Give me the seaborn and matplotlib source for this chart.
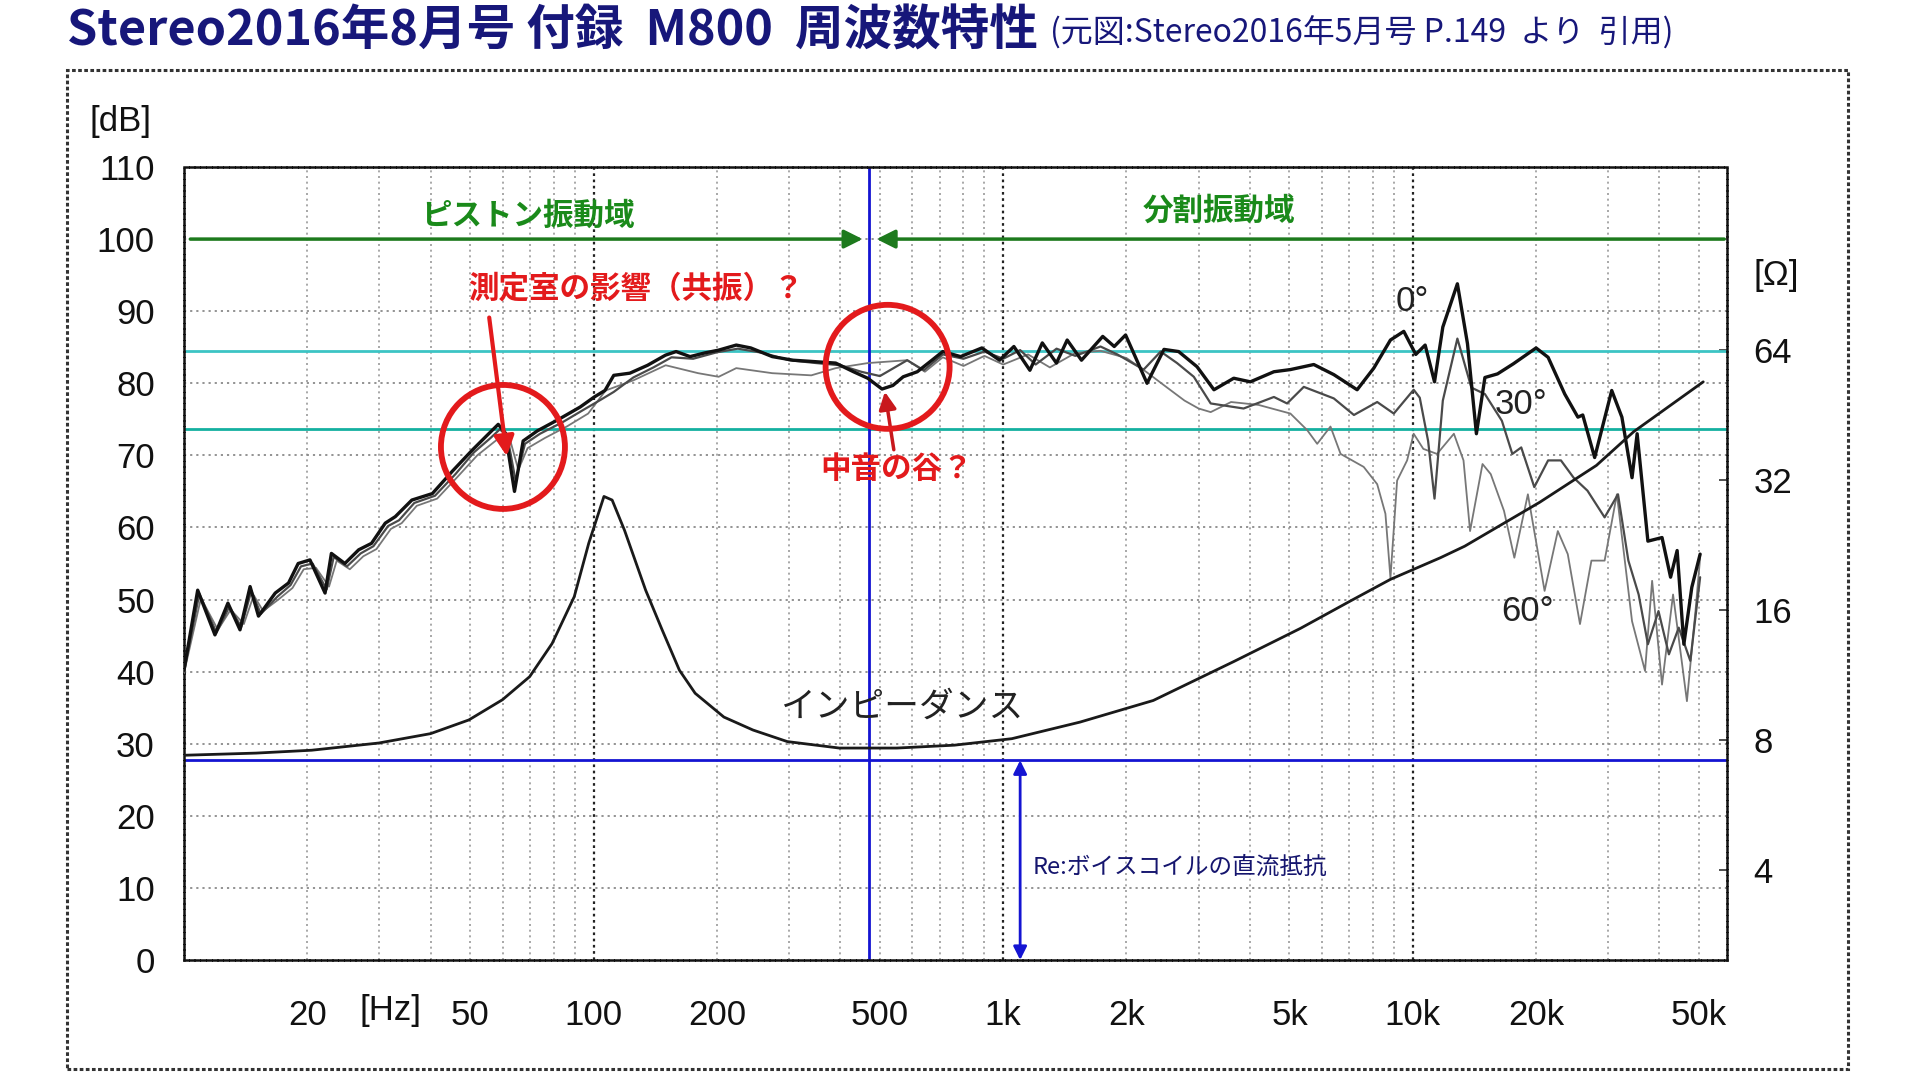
import matplotlib
matplotlib.use("Agg")
import matplotlib.pyplot as plt
from matplotlib.patches import Ellipse, Rectangle
from matplotlib.ticker import FixedLocator, NullLocator
import numpy as np
import pandas as pd
import seaborn as sns

# ---- values (frequency in Hz, level in dB) ----
freq_0deg = [10, 10.8, 11.9, 12.8, 13.7, 14.5, 15.2, 16.7, 18.0, 19.0, 20.3, 22.1, 22.9, 24.7,
             26.7, 28.7, 31.0, 32.8, 36.0, 40.4, 45.2, 50.5, 55.0, 58.5, 60.9, 64.1, 67.3, 72.9,
             82.2, 92.7, 100.4, 106.6, 112, 122.6, 135.5, 149.8, 159, 172, 186.5, 202, 223, 242,
             273, 307, 347, 390, 431, 467, 506, 538, 570, 617, 670, 712, 787, 887, 980, 1062,
             1162, 1246, 1349, 1433, 1553, 1750, 1867, 1990, 2245, 2469, 2681, 2973, 3270, 3655,
             4013, 4581, 5026, 5732, 6415, 7314, 8032, 8820, 9507, 10170, 10720, 11300, 11840,
             12850, 13600, 14300, 15000, 16100, 17600, 20000, 21400, 23500, 25300, 26000, 27800,
             30600, 32400, 34300, 35300, 37500, 40600, 42600, 44200, 45900, 48000, 50300]
spl_0deg = [40.2, 51.3, 45.1, 49.5, 45.8, 51.8, 47.7, 50.9, 52.3, 55.0, 55.5, 50.9, 56.4, 55.0,
            56.9, 57.8, 60.6, 61.5, 63.8, 64.7, 67.8, 70.7, 72.8, 74.3, 73.1, 65.0, 72.0, 73.4,
            75.0, 76.7, 78.1, 79.0, 81.1, 81.4, 82.5, 83.9, 84.4, 83.7, 84.2, 84.6, 85.3, 84.9,
            83.7, 83.2, 83.0, 82.8, 81.6, 80.7, 79.2, 79.7, 80.9, 81.6, 83.2, 84.4, 83.7, 84.9,
            83.2, 85.1, 81.8, 85.6, 82.8, 86.0, 83.2, 86.5, 85.1, 86.7, 80.0, 84.7, 84.4, 82.3,
            79.1, 80.7, 80.2, 81.6, 81.9, 82.6, 81.2, 79.1, 82.1, 86.0, 87.2, 84.0, 85.3, 80.2,
            87.8, 93.8, 85.5, 73.0, 80.8, 81.3, 82.7, 84.9, 83.6, 78.5, 75.3, 75.6, 69.7, 79.0,
            75.3, 66.9, 73.0, 58.1, 58.6, 53.1, 56.8, 43.8, 51.7, 56.3]

freq_30deg = [10, 10.9, 12.0, 12.9, 13.8, 14.6, 15.4, 16.9, 18.2, 19.3, 20.6, 22.3, 23.2, 25.0,
              27.0, 29.0, 31.5, 33.5, 36.5, 41.0, 46.0, 51.0, 56.0, 59.0, 61.5, 64.5, 68.0, 74.0,
              84.0, 95.0, 104, 112, 125, 140, 155, 175, 200, 225, 260, 300, 350, 400, 450, 500,
              583, 640, 712, 800, 900, 1000, 1100, 1200, 1350, 1500, 1728, 1900, 2203, 2424,
              2658, 2920, 3211, 3863, 4581, 4933, 5419, 6415, 7183, 8187, 8988, 10050, 10400,
              10900, 11300, 11840, 12850, 13900, 15000, 16500, 17500, 18400, 19800, 21400,
              23000, 24700, 26700, 29400, 31700, 33600, 35600, 37500, 39800, 42200, 44600,
              47600, 50300]
spl_30deg = [40.0, 50.8, 45.4, 49.0, 46.2, 51.2, 48.0, 50.4, 52.0, 54.6, 55.0, 51.4, 55.9, 54.6,
             56.4, 57.4, 60.2, 61.0, 63.4, 64.4, 67.4, 70.4, 72.4, 73.6, 72.8, 66.5, 71.6, 73.0,
             74.6, 76.4, 77.7, 78.8, 80.8, 82.2, 83.6, 83.4, 84.3, 84.8, 84.2, 83.2, 82.8, 82.5,
             81.6, 81.0, 83.2, 81.8, 84.0, 83.4, 84.4, 83.4, 84.6, 82.6, 84.8, 83.8, 85.1, 84.0,
             81.9, 84.4, 82.8, 80.9, 77.2, 76.5, 78.1, 77.2, 79.5, 77.9, 75.6, 77.4, 75.8, 79.1,
             78.0, 72.0, 64.0, 77.6, 86.2, 79.4, 78.5, 74.8, 70.2, 71.1, 65.6, 69.3, 69.3, 66.9,
             65.1, 61.4, 64.6, 55.4, 50.7, 43.8, 48.4, 42.4, 46.1, 41.5, 53.1]

freq_60deg = [10, 11.0, 12.1, 13.0, 14.0, 14.8, 15.6, 17.0, 18.4, 19.6, 21.0, 22.6, 23.6, 25.4,
              27.4, 29.5, 32.0, 34.0, 37.0, 41.5, 46.5, 52.0, 57.0, 60.0, 62.5, 65.5, 69.0, 76.0,
              86.0, 97.0, 107, 125, 150, 180, 202, 223, 273, 340, 390, 467, 583, 644, 712, 800,
              900, 1000, 1150, 1300, 1500, 1728, 2000, 2245, 2500, 2771, 3000, 3211, 3600, 4200,
              5026, 5524, 5843, 6296, 6665, 7589, 8187, 8575, 8820, 9157, 9686, 10050, 10610,
              11460, 12600, 13300, 13800, 14800, 15500, 16700, 17700, 19100, 20980, 22600,
              23900, 25600, 27300, 29400, 31500, 34300, 36900, 38400, 40600, 43200, 46700,
              49000, 50300]
spl_60deg = [39.8, 50.2, 45.8, 48.6, 46.6, 50.6, 48.4, 50.0, 51.6, 54.2, 54.4, 51.8, 55.4, 54.2,
             56.0, 57.0, 59.8, 60.6, 63.0, 64.0, 67.0, 70.0, 71.8, 72.8, 72.2, 68.0, 71.0, 72.4,
             74.0, 75.8, 79.0, 80.4, 82.5, 81.4, 80.9, 82.1, 81.4, 81.1, 82.1, 82.8, 83.2, 81.6,
             83.6, 82.4, 83.8, 82.6, 84.0, 82.2, 84.2, 84.5, 83.5, 81.5, 79.5, 77.6, 76.5, 76.0,
             77.4, 77.0, 75.8, 73.5, 71.6, 74.0, 70.2, 68.4, 66.0, 61.9, 53.0, 66.5, 69.3, 73.0,
             70.9, 70.2, 73.0, 69.3, 59.5, 68.8, 67.4, 62.3, 55.8, 64.6, 51.2, 59.5, 56.3, 46.6,
             55.4, 55.4, 64.6, 47.0, 40.1, 52.6, 38.2, 50.7, 35.9, 48.4, 55.8]

# impedance, plotted on the dB scale (right axis in ohms)
freq_imp = [10, 15, 20.5, 29.9, 40, 49.6, 59.9, 69.8, 79.2, 89.7, 97.3, 106, 111, 119, 134, 147,
            162, 177, 208, 245, 297, 398, 550, 760, 1050, 1540, 2325, 3656, 5317, 7042, 8820,
            11680, 13390, 20420, 28070, 34650, 51190]
imp_db = [28.4, 28.7, 29.1, 30.1, 31.4, 33.3, 36.1, 39.3, 43.9, 50.4, 57.8, 64.3, 63.8, 59.6,
          51.3, 45.8, 40.2, 37.0, 33.7, 31.9, 30.3, 29.4, 29.4, 29.8, 30.7, 33.0, 36.0, 41.4,
          46.0, 49.8, 52.8, 55.8, 57.4, 63.5, 68.6, 73.3, 80.2]

x_ticks = [20, 50, 100, 200, 500, 1000, 2000, 5000, 10000, 20000, 50000]
x_ticklabels = ["20", "50", "100", "200", "500", "1k", "2k", "5k", "10k", "20k", "50k"]
y_ticks = list(range(0, 111, 10))
ohm_ticks = [4, 8, 16, 32, 64]

f_split = 470        # border piston / break-up region
re_db = 27.7         # Re level
cyan_levels = [84.5, 73.6]

JP = ["Noto Sans CJK JP", "DejaVu Sans"]
NUM = ["Liberation Sans", "DejaVu Sans"]


def db_to_ohm(db):
    return 8 * 2 ** ((np.asarray(db, dtype=float) - 30.5) / 18.03)


def ohm_to_db(ohm):
    ohm = np.clip(np.asarray(ohm, dtype=float), 1e-6, None)
    return 30.5 + 18.03 * np.log2(ohm / 8)


sns.set_theme(style="white")
plt.rcParams["font.family"] = JP

fig = plt.figure(figsize=(19.2, 10.8), dpi=100)
ax = fig.add_axes([184 / 1920, 120 / 1080, 1543 / 1920, 793 / 1080])
ax.set_xscale("log")
ax.set_xlim(10, 58500)
ax.set_ylim(0, 110)

# grid (drawn by hand: decades darker, in-between lighter)
for dec in [10, 100, 1000, 10000]:
    for m in range(1, 10):
        f = dec * m
        if f > 58500:
            continue
        if m == 1:
            ax.axvline(f, color="#222222", ls=(0, (1.2, 1.6)), lw=1.6, zorder=0)
        else:
            ax.axvline(f, color="#9a9a9a", ls=(0, (1.2, 2.2)), lw=1.2, zorder=0)
for y in y_ticks[1:-1]:
    ax.axhline(y, color="#8a8a8a", ls=(0, (1.2, 2.2)), lw=1.3, zorder=0)

for lvl, col in zip(cyan_levels, ["#3cc4c4", "#14b0a0"]):
    ax.axhline(lvl, color=col, lw=2.0, zorder=1)
ax.axhline(re_db, color="#1414d2", lw=2.0, zorder=1)
ax.axvline(f_split, color="#1414d2", lw=2.0, zorder=1)

curves = [
    (freq_60deg, spl_60deg, "#777777", 1.3),
    (freq_30deg, spl_30deg, "#4a4a4a", 1.6),
    (freq_0deg, spl_0deg, "#111111", 2.4),
    (freq_imp, imp_db, "#1a1a1a", 2.0),
]
for fx, fy, col, lw in curves:
    sns.lineplot(x=fx, y=fy, ax=ax, color=col, lw=lw, estimator=None, sort=False,
                 legend=False, zorder=3)

# ticks
ax.xaxis.set_major_locator(FixedLocator(x_ticks))
ax.xaxis.set_minor_locator(NullLocator())
ax.set_xticklabels(x_ticklabels, fontfamily=NUM, fontsize=25, color="#111111")
ax.set_yticks(y_ticks)
ax.set_yticklabels([str(v) for v in y_ticks], fontfamily=NUM, fontsize=25, color="#111111")
ax.tick_params(axis="x", length=0, pad=28)
ax.tick_params(axis="y", length=0, pad=21)
ax.set_xlabel("")
ax.set_ylabel("")
for sp in ax.spines.values():
    sp.set_color("#111111")
    sp.set_linewidth(1.8)
    sp.set_linestyle((0, (1.5, 0.8)))

sec = ax.secondary_yaxis("right", functions=(db_to_ohm, ohm_to_db))
sec.set_yticks(ohm_ticks)
sec.set_yticklabels([str(v) for v in ohm_ticks], fontfamily=NUM, fontsize=25, color="#111111")
sec.yaxis.set_minor_locator(NullLocator())
sec.tick_params(axis="y", direction="in", length=6, width=1.2, pad=19, color="#333333")
for sp in sec.spines.values():
    sp.set_visible(False)

ax.text(32, -0.064, "[Hz]", transform=ax.get_xaxis_transform(), ha="center", va="center",
        fontfamily=NUM, fontsize=25, color="#111111")
fig.text(120 / 1920, 1 - 122 / 1080, "[dB]", ha="center", va="center",
         fontfamily=NUM, fontsize=25, color="#111111")
fig.text(1776 / 1920, 1 - 276 / 1080, "[Ω]", ha="center", va="center",
         fontfamily=NUM, fontsize=25, color="#111111")

# region arrows (green)
green = "#1d7a1d"
ax.annotate("", xy=(461, 100), xytext=(10.2, 100),
            arrowprops=dict(arrowstyle="-|>", color=green, lw=2.5, mutation_scale=28))
ax.annotate("", xy=(483, 100), xytext=(58500, 100),
            arrowprops=dict(arrowstyle="-|>", color=green, lw=2.5, mutation_scale=28))
ax.text(69, 103.2, "ピストン振動域", ha="center", va="center", fontsize=22,
        color="#1a8a1a", fontweight="bold")
ax.text(3360, 104, "分割振動域", ha="center", va="center", fontsize=22,
        color="#1a8a1a", fontweight="bold")

# red notes
red = "#e31a1c"
ax.text(127, 93.2, "測定室の影響（共振）？", ha="center", va="center", fontsize=22,
        color=red, fontweight="bold")
ax.annotate("", xy=(61.5, 69.5), xytext=(55.5, 89.5),
            arrowprops=dict(arrowstyle="-|>", color=red, lw=3, mutation_scale=30))
ax.text(548, 68.1, "中音の谷？", ha="center", va="center", fontsize=22,
        color=red, fontweight="bold")
ax.annotate("", xy=(513, 79.2), xytext=(542, 70.4),
            arrowprops=dict(arrowstyle="-|>", color="#c8181c", lw=2.5, mutation_scale=26))
for cx, cy in [(0.2067, 0.647), (0.456, 0.748)]:
    ax.add_patch(Ellipse((cx, cy), 2 * 62 / 1543, 2 * 62 / 793, transform=ax.transAxes,
                         fill=False, ec=red, lw=4.2, zorder=5))

# curve labels
ax.text(565, 35.1, "インピーダンス", ha="center", va="center", fontsize=25, color="#222222")
ax.text(9960, 91.3, "0°", ha="center", va="center", fontfamily=NUM, fontsize=25, color="#222222")
ax.text(18400, 77.1, "30°", ha="center", va="center", fontfamily=NUM, fontsize=25, color="#222222")
ax.text(19100, 48.3, "60°", ha="center", va="center", fontfamily=NUM, fontsize=25, color="#222222")

# Re annotation
ax.annotate("", xy=(1100, 0), xytext=(1100, re_db),
            arrowprops=dict(arrowstyle="<|-|>", color="#1414d2", lw=2, mutation_scale=20,
                            shrinkA=0, shrinkB=0))
ax.text(1180, 12.9, "Re:ボイスコイルの直流抵抗", ha="left", va="center", fontsize=17,
        color="#15156e")

# outer frame and titles
fig.add_artist(Rectangle((67 / 1920, 1 - 1069 / 1080), (1848 - 67) / 1920, (1069 - 70) / 1080,
                         transform=fig.transFigure, fill=False, ec="#333333", lw=2.2,
                         ls=(0, (1.2, 0.8))))
fig.text(67 / 1920, 1 - 31 / 1080, "Stereo2016年8月号 付録  M800  周波数特性", ha="left",
         va="center", fontsize=35, color="#17177a", fontweight="bold")
fig.text(1050 / 1920, 1 - 33 / 1080, "(元図:Stereo2016年5月号 P.149  より  引用)", ha="left",
         va="center", fontsize=23, color="#17177a")

fig.savefig("out.png", dpi=100)
